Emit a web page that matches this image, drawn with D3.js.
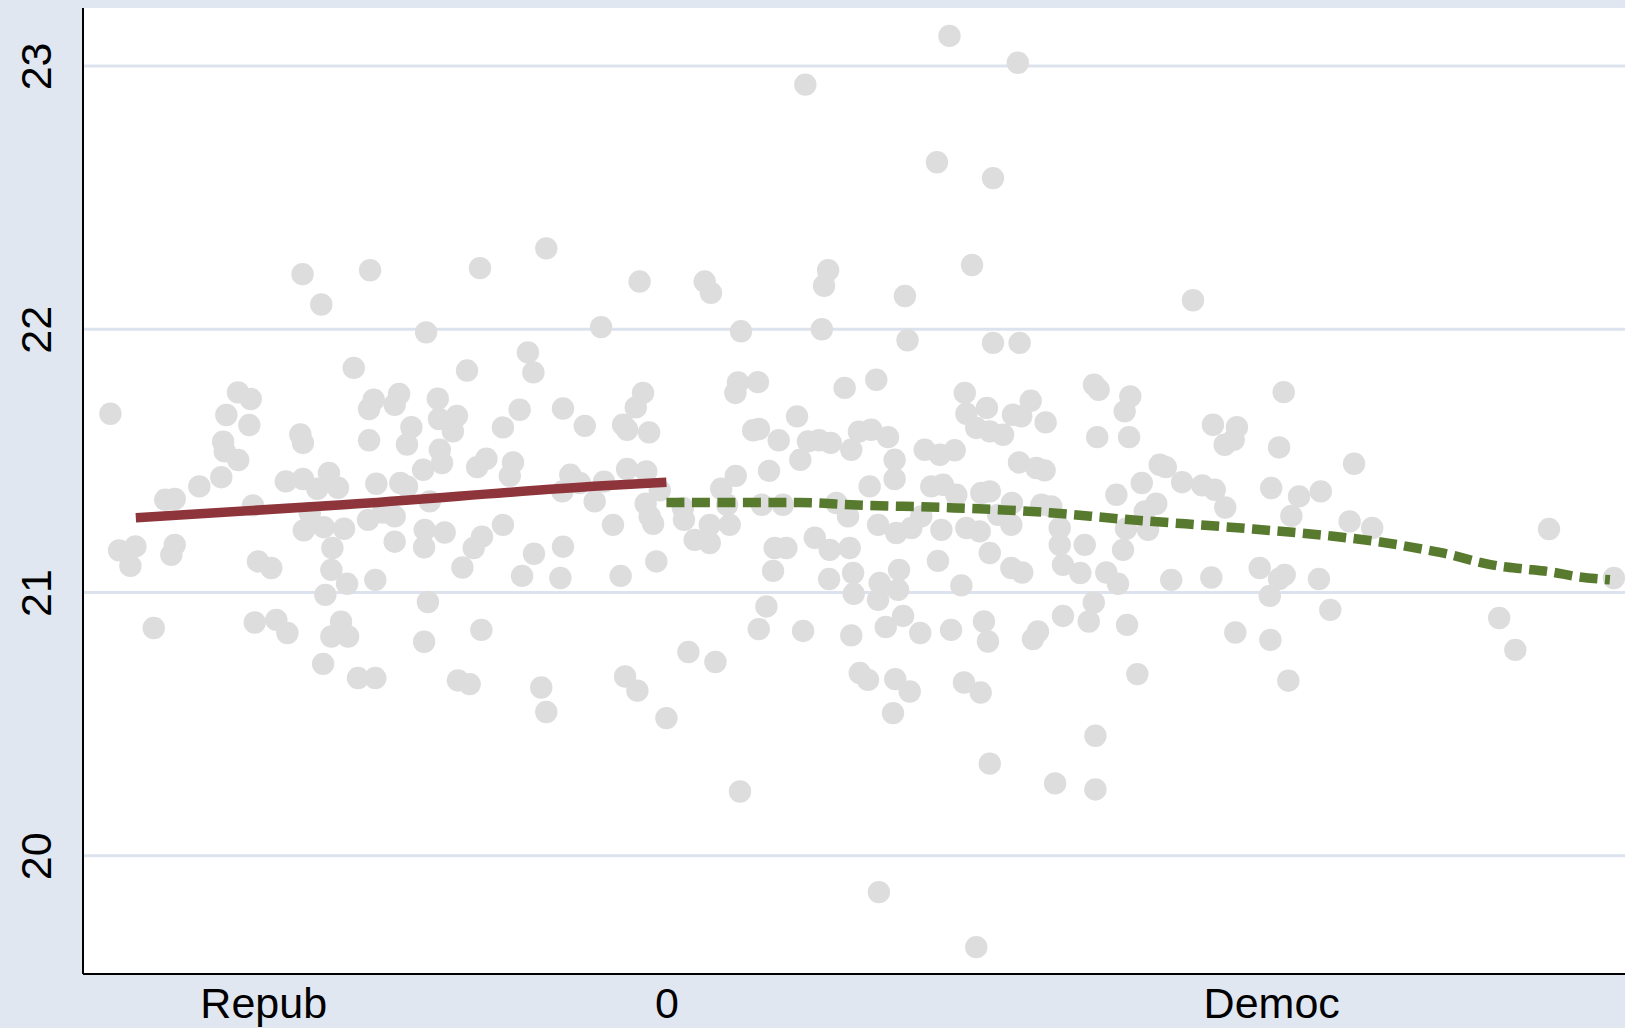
<!DOCTYPE html>
<html lang="en">
<head>
<meta charset="utf-8" />
<title>RD scatter</title>
<script src="https://cdn.jsdelivr.net/npm/d3@7"></script>
<style>
    html, body { margin: 0; padding: 0; background: #e1e7f0; }
    svg { display: block; }
    text { font-family: "Liberation Sans", Arial, Helvetica, sans-serif; fill: #000; }
</style>
</head>
<body>
<svg id="chart" width="1625" height="1028"></svg>
<script>
    // tick values / labels
    var yTicks = [20, 21, 22, 23];
    var xTickValues = [-0.2, 0, 0.3];
    var xTickLabels = ["Repub", "0", "Democ"];

    // scatter, left of the cutoff
    var repubX = [-0.0596, -0.1805, -0.1470, -0.0925, -0.0133, -0.1712, -0.0324, -0.1192,
        -0.2758, -0.2125, -0.2062, -0.2183, -0.2069, -0.2199, -0.2191, -0.2124, -0.1816, -0.1803,
        -0.2208, -0.2317, -0.2486, -0.2439, -0.2051, -0.1888, -0.1803, -0.1674, -0.1732, -0.1629,
        -0.1769, -0.1799, -0.1700, -0.1599, -0.1551, -0.0687, -0.0660, -0.0989, -0.1452, -0.1326,
        -0.1475, -0.1348, -0.1134, -0.1039, -0.1128, -0.1059, -0.1265, -0.1287, -0.1475, -0.0728,
        -0.0811, -0.0513, -0.0405, -0.1124, -0.1113, -0.1207, -0.0893, -0.0939, -0.0761, -0.0777,
        -0.0477, -0.0430, -0.0516, -0.0356, -0.0310, -0.1439, -0.1320, -0.1287, -0.1174, -0.1348,
        -0.1406, -0.1480, -0.1199, -0.1100, -0.0811, -0.0915, -0.1348, -0.0513, -0.0265, -0.0116,
        -0.0152, -0.0215, -0.0195, -0.0086, -0.0195, -0.0100, -0.0033, -0.0103, -0.0083, -0.0066,
        -0.2715, -0.2634, -0.2659, -0.2439, -0.2456, -0.2543, -0.2026, -0.1960, -0.2042, -0.1935,
        -0.1880, -0.1657, -0.1662, -0.1692, -0.1614, -0.1662, -0.1579, -0.1703, -0.1584, -0.1202,
        -0.0956, -0.1012, -0.0657, -0.0716, -0.0526, -0.1444, -0.1183, -0.1202, -0.0918, -0.1530,
        -0.1444, -0.1034, -0.0976, -0.0621, -0.0596, -0.0050, -0.0227, -0.0205, -0.0144];
    var repubY = [22.307, 22.209, 22.224, 22.232, 22.181, 22.094, 22.008, 21.988,
        21.679, 21.760, 21.735, 21.674, 21.636, 21.573, 21.536, 21.503, 21.600, 21.568,
        21.438, 21.403, 21.352, 21.355, 21.331, 21.422, 21.431, 21.454, 21.394, 21.398,
        21.302, 21.236, 21.248, 21.242, 21.853, 21.912, 21.836, 21.843, 21.732, 21.754,
        21.697, 21.713, 21.736, 21.671, 21.659, 21.612, 21.628, 21.562, 21.578, 21.694,
        21.627, 21.699, 21.633, 21.542, 21.492, 21.466, 21.508, 21.476, 21.494, 21.443,
        21.447, 21.416, 21.384, 21.346, 21.421, 21.413, 21.416, 21.403, 21.346, 21.289,
        21.304, 21.276, 21.238, 21.228, 21.257, 21.212, 21.193, 21.174, 21.257, 21.758,
        21.703, 21.637, 21.618, 21.608, 21.469, 21.460, 21.388, 21.337, 21.289, 21.261,
        21.160, 21.175, 21.101, 21.181, 21.143, 20.865, 21.118, 21.093, 20.886, 20.896,
        20.846, 21.169, 21.086, 20.991, 20.889, 20.833, 20.833, 20.729, 21.033, 21.172,
        21.169, 21.095, 21.147, 21.063, 21.055, 21.048, 20.964, 20.813, 20.858, 20.675,
        20.675, 20.666, 20.652, 20.639, 20.546, 21.118, 21.063, 20.681, 20.627];

    // scatter, right of the cutoff
    var democX = [0.1404, 0.1743, 0.0689, 0.1342, 0.1620, 0.1516, 0.0190, 0.0221, 0.0802, 0.0782,
        0.1183, 0.2612, 0.0370, 0.0771, 0.1196, 0.1620, 0.1752, 0.0355, 0.0454, 0.0342,
        0.0884, 0.0648, 0.0430, 0.0459, 0.0557, 0.0702, 0.0757, 0.0815, 0.0917, 0.0955,
        0.0664, 0.0509, 0.0344, 0.0272, 0.0301, 0.0473, 0.0578, 0.0082, 0.0087, 0.0215,
        0.0314, 0.0140, 0.0843, 0.0901, 0.0736, 0.1008, 0.1041, 0.1480, 0.2121, 0.2144,
        0.1590, 0.1488, 0.1807, 0.1719, 0.1760, 0.1881, 0.1537, 0.1604, 0.1670, 0.2137,
        0.1099, 0.1281, 0.1356, 0.1430, 0.1132, 0.1749, 0.1835, 0.1876, 0.1132, 0.1314,
        0.1372, 0.1438, 0.1562, 0.1604, 0.1714, 0.1860, 0.1909, 0.2232, 0.1050, 0.1140,
        0.1215, 0.1264, 0.1364, 0.1488, 0.1554, 0.1645, 0.1711, 0.1951, 0.2280, 0.2075,
        0.1951, 0.1016, 0.2301, 0.2273, 0.2295, 0.3062, 0.2711, 0.2830, 0.2769, 0.2814,
        0.3039, 0.3411, 0.2447, 0.2477, 0.2358, 0.2558, 0.2658, 0.2720, 0.2772, 0.3000,
        0.3138, 0.3246, 0.3100, 0.2430, 0.2373, 0.3389, 0.3501, 0.2389, 0.4378, 0.0215,
        0.0537, 0.0595, 0.0810, 0.0909, 0.0529, 0.0807, 0.0926, 0.0929, 0.0496, 0.0458,
        0.0678, 0.0917, 0.0109, 0.0243, 0.0000, 0.0959, 0.1604, 0.1347, 0.1154, 0.1058,
        0.1149, 0.1050, 0.1463, 0.1711, 0.1765, 0.1967, 0.2053, 0.2182, 0.2240, 0.2120,
        0.2095, 0.1967, 0.1174, 0.1088, 0.1259, 0.1412, 0.1575, 0.1595, 0.1843, 0.1818,
        0.2285, 0.1000, 0.1135, 0.1207, 0.1124, 0.1476, 0.1559, 0.2128, 0.2265, 0.2504,
        0.2703, 0.2943, 0.3067, 0.3039, 0.2993, 0.3237, 0.3293, 0.2822, 0.2996, 0.2336,
        0.3085, 0.4700, 0.4131, 0.4211, 0.0365, 0.1604, 0.1928, 0.2128, 0.1054, 0.1537];
    var democY = [23.114, 23.012, 22.929, 22.634, 22.574, 22.244, 22.181, 22.138, 22.224, 22.165,
        22.126, 22.110, 21.992, 22.000, 21.958, 21.948, 21.948, 21.798, 21.799, 21.758,
        21.777, 21.669, 21.616, 21.621, 21.578, 21.574, 21.578, 21.568, 21.542, 21.611,
        21.504, 21.462, 21.443, 21.394, 21.333, 21.333, 21.333, 21.321, 21.276, 21.257,
        21.257, 21.200, 21.340, 21.289, 21.208, 21.403, 21.808, 21.758, 21.789, 21.770,
        21.701, 21.679, 21.728, 21.675, 21.669, 21.646, 21.625, 21.612, 21.599, 21.590,
        21.590, 21.542, 21.523, 21.540, 21.504, 21.494, 21.473, 21.464, 21.431, 21.403,
        21.409, 21.371, 21.378, 21.384, 21.340, 21.333, 21.327, 21.371, 21.257, 21.226,
        21.245, 21.289, 21.238, 21.245, 21.232, 21.295, 21.257, 21.245, 21.242, 21.181,
        21.181, 21.618, 21.745, 21.688, 21.590, 21.761, 21.637, 21.628, 21.561, 21.580,
        21.551, 21.489, 21.485, 21.476, 21.416, 21.419, 21.407, 21.390, 21.323, 21.397,
        21.365, 21.384, 21.291, 21.337, 21.308, 21.270, 21.245, 21.238, 21.241, 21.188,
        21.169, 21.169, 21.162, 21.169, 21.082, 21.051, 21.074, 20.995, 20.947, 20.861,
        20.854, 20.837, 20.774, 20.736, 20.523, 20.694, 21.150, 21.120, 21.086, 21.036,
        21.010, 20.972, 21.027, 21.093, 21.076, 21.105, 21.074, 21.076, 21.033, 20.962,
        20.890, 20.911, 20.911, 20.869, 20.846, 20.858, 20.890, 20.814, 20.852, 20.823,
        20.877, 20.668, 20.671, 20.624, 20.542, 20.658, 20.620, 20.456, 21.162, 21.048,
        21.057, 21.093, 21.067, 21.051, 20.987, 21.051, 20.934, 20.848, 20.820, 20.690,
        20.665, 21.055, 20.903, 20.782, 20.244, 20.350, 20.275, 20.252, 19.862, 19.653];

    // fitted lines
    var repubFitX = [-0.2632, -0.1604, -0.0315, 0];
    var repubFitY = [21.284, 21.333, 21.405, 21.419];
    var democFitX = [0, 0.0662, 0.0915, 0.1406, 0.1903, 0.2245, 0.2910, 0.3291, 0.3557, 0.3768,
        0.3892, 0.4016, 0.4140, 0.4264, 0.4388, 0.4512, 0.4680];
    var democFitY = [21.342, 21.342, 21.333, 21.322, 21.303, 21.280, 21.241, 21.215, 21.190, 21.162,
        21.143, 21.118, 21.099, 21.089, 21.078, 21.061, 21.048];

    var svg = d3.select("#chart"),
        W = +svg.attr("width"),
        H = +svg.attr("height");

    var plot = { left: 83, top: 8, right: 1625, bottom: 974 };

    var x = d3.scaleLinear().domain([-0.2894, 0.4755]).range([plot.left, plot.right]);
    var y = d3.scaleLinear().domain([19.551, 23.220]).range([plot.bottom, plot.top]);

    svg.append("rect").attr("width", W).attr("height", H).attr("fill", "#e1e7f0");
    svg.append("rect")
        .attr("x", plot.left).attr("y", plot.top)
        .attr("width", plot.right - plot.left + 20).attr("height", plot.bottom - plot.top)
        .attr("fill", "#fff");

    // grid
    svg.append("g").selectAll("line")
        .data(yTicks).enter().append("line")
        .attr("x1", plot.left).attr("x2", plot.right + 20)
        .attr("y1", function (d) { return y(d); })
        .attr("y2", function (d) { return y(d); })
        .attr("stroke", "#dde3ee").attr("stroke-width", 3);

    // points
    var pts = repubX.map(function (v, i) { return [v, repubY[i]]; })
        .concat(democX.map(function (v, i) { return [v, democY[i]]; }));

    svg.append("g").selectAll("circle")
        .data(pts).enter().append("circle")
        .attr("cx", function (d) { return x(d[0]); })
        .attr("cy", function (d) { return y(d[1]); })
        .attr("r", 11.2)
        .attr("fill", "#dddddd");

    // fit lines
    var line = d3.line()
        .x(function (d) { return x(d[0]); })
        .y(function (d) { return y(d[1]); })
        .curve(d3.curveMonotoneX);

    svg.append("path")
        .datum(repubFitX.map(function (v, i) { return [v, repubFitY[i]]; }))
        .attr("d", line)
        .attr("fill", "none").attr("stroke", "#8e343b").attr("stroke-width", 9.5);

    svg.append("path")
        .datum(democFitX.map(function (v, i) { return [v, democFitY[i]]; }))
        .attr("d", line)
        .attr("fill", "none").attr("stroke", "#587a2e").attr("stroke-width", 9.5)
        .attr("stroke-dasharray", "18 7.5");

    // axes (no visible tick marks in the original)
    var yAxis = d3.axisLeft(y).tickValues(yTicks).tickSize(0).tickFormat(d3.format("d"));
    var gy = svg.append("g").attr("transform", "translate(" + plot.left + ",0)").call(yAxis);
    gy.select(".domain").attr("stroke", "#000").attr("stroke-width", 2)
        .attr("d", "M0," + plot.top + "V" + plot.bottom);
    gy.selectAll(".tick line").remove();
    gy.selectAll(".tick text")
        .attr("font-size", 43)
        .attr("text-anchor", "middle")
        .attr("x", null).attr("dy", null)
        .attr("transform", "translate(-32,0) rotate(-90)");

    var xAxis = d3.axisBottom(x).tickValues(xTickValues).tickSize(0)
        .tickFormat(function (d, i) { return xTickLabels[i]; });
    var gx = svg.append("g").attr("transform", "translate(0," + plot.bottom + ")").call(xAxis);
    gx.select(".domain").attr("stroke", "#000").attr("stroke-width", 2)
        .attr("d", "M" + plot.left + ",0H" + (plot.right + 20));
    gx.selectAll(".tick line").remove();
    gx.selectAll(".tick text")
        .attr("font-size", 43)
        .attr("y", 44).attr("dy", null);
</script>
</body>
</html>
